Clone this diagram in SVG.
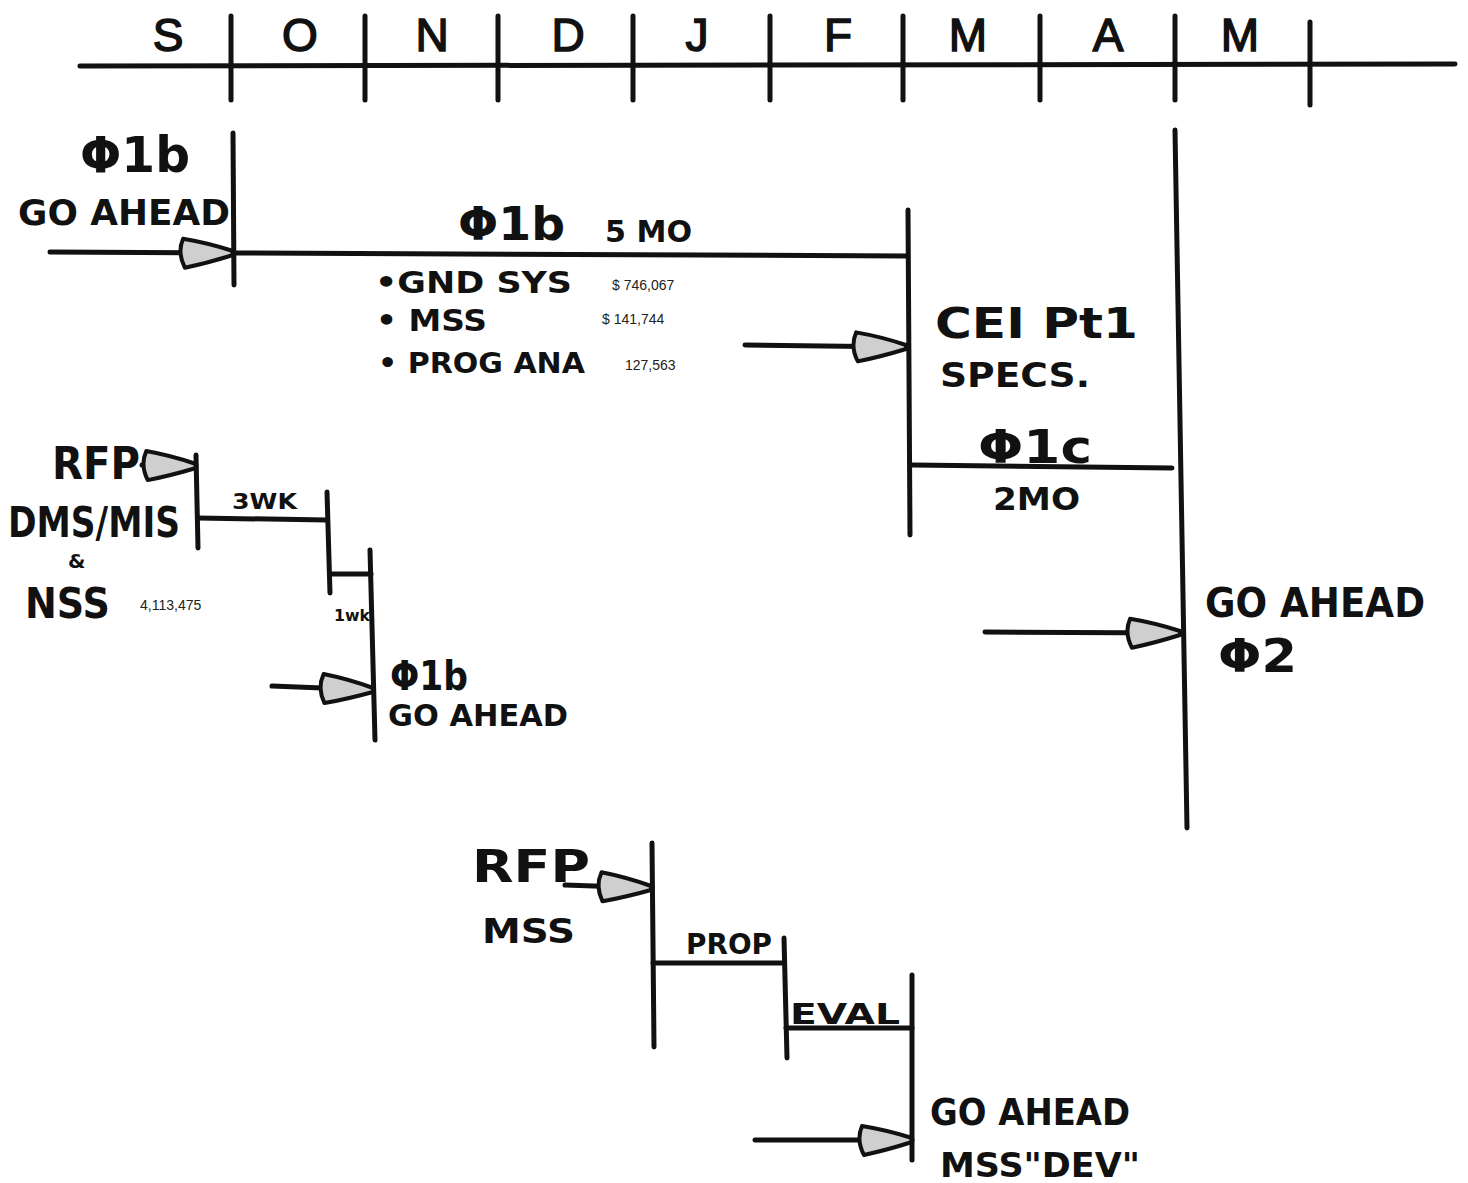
<svg xmlns="http://www.w3.org/2000/svg" width="1468" height="1183" viewBox="0 0 1468 1183">
<defs>
<style>
.ln{stroke:#111;stroke-width:5;stroke-linecap:round;fill:none}
.hd{font-family:"DejaVu Sans","Liberation Sans",sans-serif;font-weight:bold;fill:#111}
.sm{font-family:"Liberation Sans",sans-serif;fill:#222;font-size:14px}
.mo{font-family:"Liberation Sans",sans-serif;font-size:46px;fill:#111;stroke:#111;stroke-width:1.5;text-anchor:middle}
</style>
<marker id="ah" markerUnits="userSpaceOnUse" markerWidth="60" markerHeight="40" viewBox="-8 -20 60 40" refX="50" refY="0" orient="auto">
<path d="M0,-14 Q25,-10 50,-2 L50,2 Q25,10 2,15 Q-6,0 0,-14 Z" fill="#cfcfcf" stroke="#111" stroke-width="4" stroke-linejoin="round"/>
</marker>
</defs>
<rect width="1468" height="1183" fill="#fff"/>
<g id="timeline">
<line class="ln" x1="80" y1="66" x2="1455" y2="64"/>
<line class="ln" x1="231" y1="16" x2="231" y2="100"/>
<line class="ln" x1="365" y1="16" x2="365" y2="100"/>
<line class="ln" x1="498" y1="16" x2="498" y2="100"/>
<line class="ln" x1="633" y1="16" x2="633" y2="100"/>
<line class="ln" x1="770" y1="16" x2="770" y2="100"/>
<line class="ln" x1="903" y1="16" x2="903" y2="100"/>
<line class="ln" x1="1040" y1="16" x2="1040" y2="100"/>
<line class="ln" x1="1175" y1="16" x2="1175" y2="100"/>
<line class="ln" x1="1310" y1="22" x2="1310" y2="105"/>
<text class="mo" x="168" y="51">S</text>
<text class="mo" x="300" y="51">O</text>
<text class="mo" x="432" y="51">N</text>
<text class="mo" x="568" y="51">D</text>
<text class="mo" x="697" y="51">J</text>
<text class="mo" x="838" y="51">F</text>
<text class="mo" x="968" y="51">M</text>
<text class="mo" x="1108" y="51">A</text>
<text class="mo" x="1240" y="51">M</text>
</g>
<g id="connectors">
<line class="ln" x1="50" y1="252" x2="233" y2="253" marker-end="url(#ah)"/>
<line class="ln" x1="233" y1="253" x2="907" y2="256"/>
<line class="ln" x1="745" y1="345" x2="906" y2="347" marker-end="url(#ah)"/>
<line class="ln" x1="912" y1="465" x2="1172" y2="468"/>
<line class="ln" x1="985" y1="632" x2="1180" y2="633" marker-end="url(#ah)"/>
<line class="ln" x1="142" y1="465" x2="196" y2="466" marker-end="url(#ah)"/>
<line class="ln" x1="198" y1="518" x2="327" y2="520"/>
<line class="ln" x1="330" y1="574" x2="371" y2="574"/>
<line class="ln" x1="272" y1="686" x2="373" y2="690" marker-end="url(#ah)"/>
<line class="ln" x1="565" y1="885" x2="651" y2="888" marker-end="url(#ah)"/>
<line class="ln" x1="653" y1="963" x2="784" y2="963"/>
<line class="ln" x1="786" y1="1028" x2="912" y2="1028"/>
<line class="ln" x1="755" y1="1140" x2="912" y2="1140" marker-end="url(#ah)"/>
</g>
<g id="n-phi1b-goahead">
<line class="ln" x1="233" y1="133" x2="234" y2="285"/>
<text class="hd" x="80" y="172" font-size="50" textLength="110" lengthAdjust="spacingAndGlyphs">Φ1b</text>
<text class="hd" x="18" y="225" font-size="36" textLength="212" lengthAdjust="spacingAndGlyphs">GO AHEAD</text>
</g>
<g id="n-phi1b-5mo">
<text class="hd" x="458" y="240" font-size="46" textLength="107" lengthAdjust="spacingAndGlyphs">Φ1b</text>
<text class="hd" x="605" y="242" font-size="30" textLength="87" lengthAdjust="spacingAndGlyphs">5 MO</text>
<text class="hd" x="375" y="293" font-size="30" textLength="197" lengthAdjust="spacingAndGlyphs">•GND SYS</text>
<text class="hd" x="376" y="331" font-size="30" textLength="111" lengthAdjust="spacingAndGlyphs">• MSS</text>
<text class="hd" x="378" y="373" font-size="28" textLength="207" lengthAdjust="spacingAndGlyphs">• PROG ANA</text>
<text class="sm" x="612" y="290">$ 746,067</text>
<text class="sm" x="602" y="324">$ 141,744</text>
<text class="sm" x="625" y="370">127,563</text>
</g>
<g id="n-cei">
<line class="ln" x1="908" y1="210" x2="910" y2="535"/>
<text class="hd" x="935" y="338" font-size="42" textLength="203" lengthAdjust="spacingAndGlyphs">CEI Pt1</text>
<text class="hd" x="940" y="387" font-size="34" textLength="150" lengthAdjust="spacingAndGlyphs">SPECS.</text>
</g>
<g id="n-phi1c">
<text class="hd" x="978" y="463" font-size="46" textLength="114" lengthAdjust="spacingAndGlyphs">Φ1c</text>
<text class="hd" x="993" y="510" font-size="32" textLength="87" lengthAdjust="spacingAndGlyphs">2MO</text>
</g>
<g id="n-phi2">
<line class="ln" x1="1175" y1="130" x2="1187" y2="828"/>
<text class="hd" x="1205" y="617" font-size="40" textLength="220" lengthAdjust="spacingAndGlyphs">GO AHEAD</text>
<text class="hd" x="1218" y="672" font-size="46" textLength="79" lengthAdjust="spacingAndGlyphs">Φ2</text>
</g>
<g id="n-rfp-dms">
<text class="hd" x="52" y="479" font-size="44" textLength="88" lengthAdjust="spacingAndGlyphs">RFP</text>
<text class="hd" x="8" y="537" font-size="42" textLength="172" lengthAdjust="spacingAndGlyphs">DMS/MIS</text>
<text class="hd" x="68" y="568" font-size="20">&amp;</text>
<text class="hd" x="25" y="618" font-size="42" textLength="85" lengthAdjust="spacingAndGlyphs">NSS</text>
<text class="sm" x="140" y="610">4,113,475</text>
<line class="ln" x1="196" y1="455" x2="198" y2="548"/>
<text class="hd" x="232" y="509" font-size="22" textLength="65" lengthAdjust="spacingAndGlyphs">3WK</text>
<line class="ln" x1="327" y1="492" x2="330" y2="593"/>
<text class="hd" x="334" y="621" font-size="16" textLength="36" lengthAdjust="spacingAndGlyphs">1wk</text>
<line class="ln" x1="370" y1="550" x2="375" y2="740"/>
</g>
<g id="n-phi1b-goahead2">
<text class="hd" x="390" y="690" font-size="40" textLength="78" lengthAdjust="spacingAndGlyphs">Φ1b</text>
<text class="hd" x="388" y="726" font-size="30" textLength="180" lengthAdjust="spacingAndGlyphs">GO AHEAD</text>
</g>
<g id="n-rfp-mss">
<text class="hd" x="472" y="882" font-size="44" textLength="118" lengthAdjust="spacingAndGlyphs">RFP</text>
<text class="hd" x="482" y="943" font-size="34" textLength="93" lengthAdjust="spacingAndGlyphs">MSS</text>
<line class="ln" x1="652" y1="843" x2="654" y2="1047"/>
<text class="hd" x="686" y="954" font-size="28" textLength="86" lengthAdjust="spacingAndGlyphs">PROP</text>
<line class="ln" x1="784" y1="938" x2="787" y2="1058"/>
<text class="hd" x="790" y="1024" font-size="28" textLength="110" lengthAdjust="spacingAndGlyphs">EVAL</text>
<line class="ln" x1="912" y1="975" x2="912" y2="1160"/>
</g>
<g id="n-goahead-mss">
<text class="hd" x="930" y="1125" font-size="38" textLength="200" lengthAdjust="spacingAndGlyphs">GO AHEAD</text>
<text class="hd" x="940" y="1177" font-size="34" textLength="200" lengthAdjust="spacingAndGlyphs">MSS"DEV"</text>
</g>
</svg>
